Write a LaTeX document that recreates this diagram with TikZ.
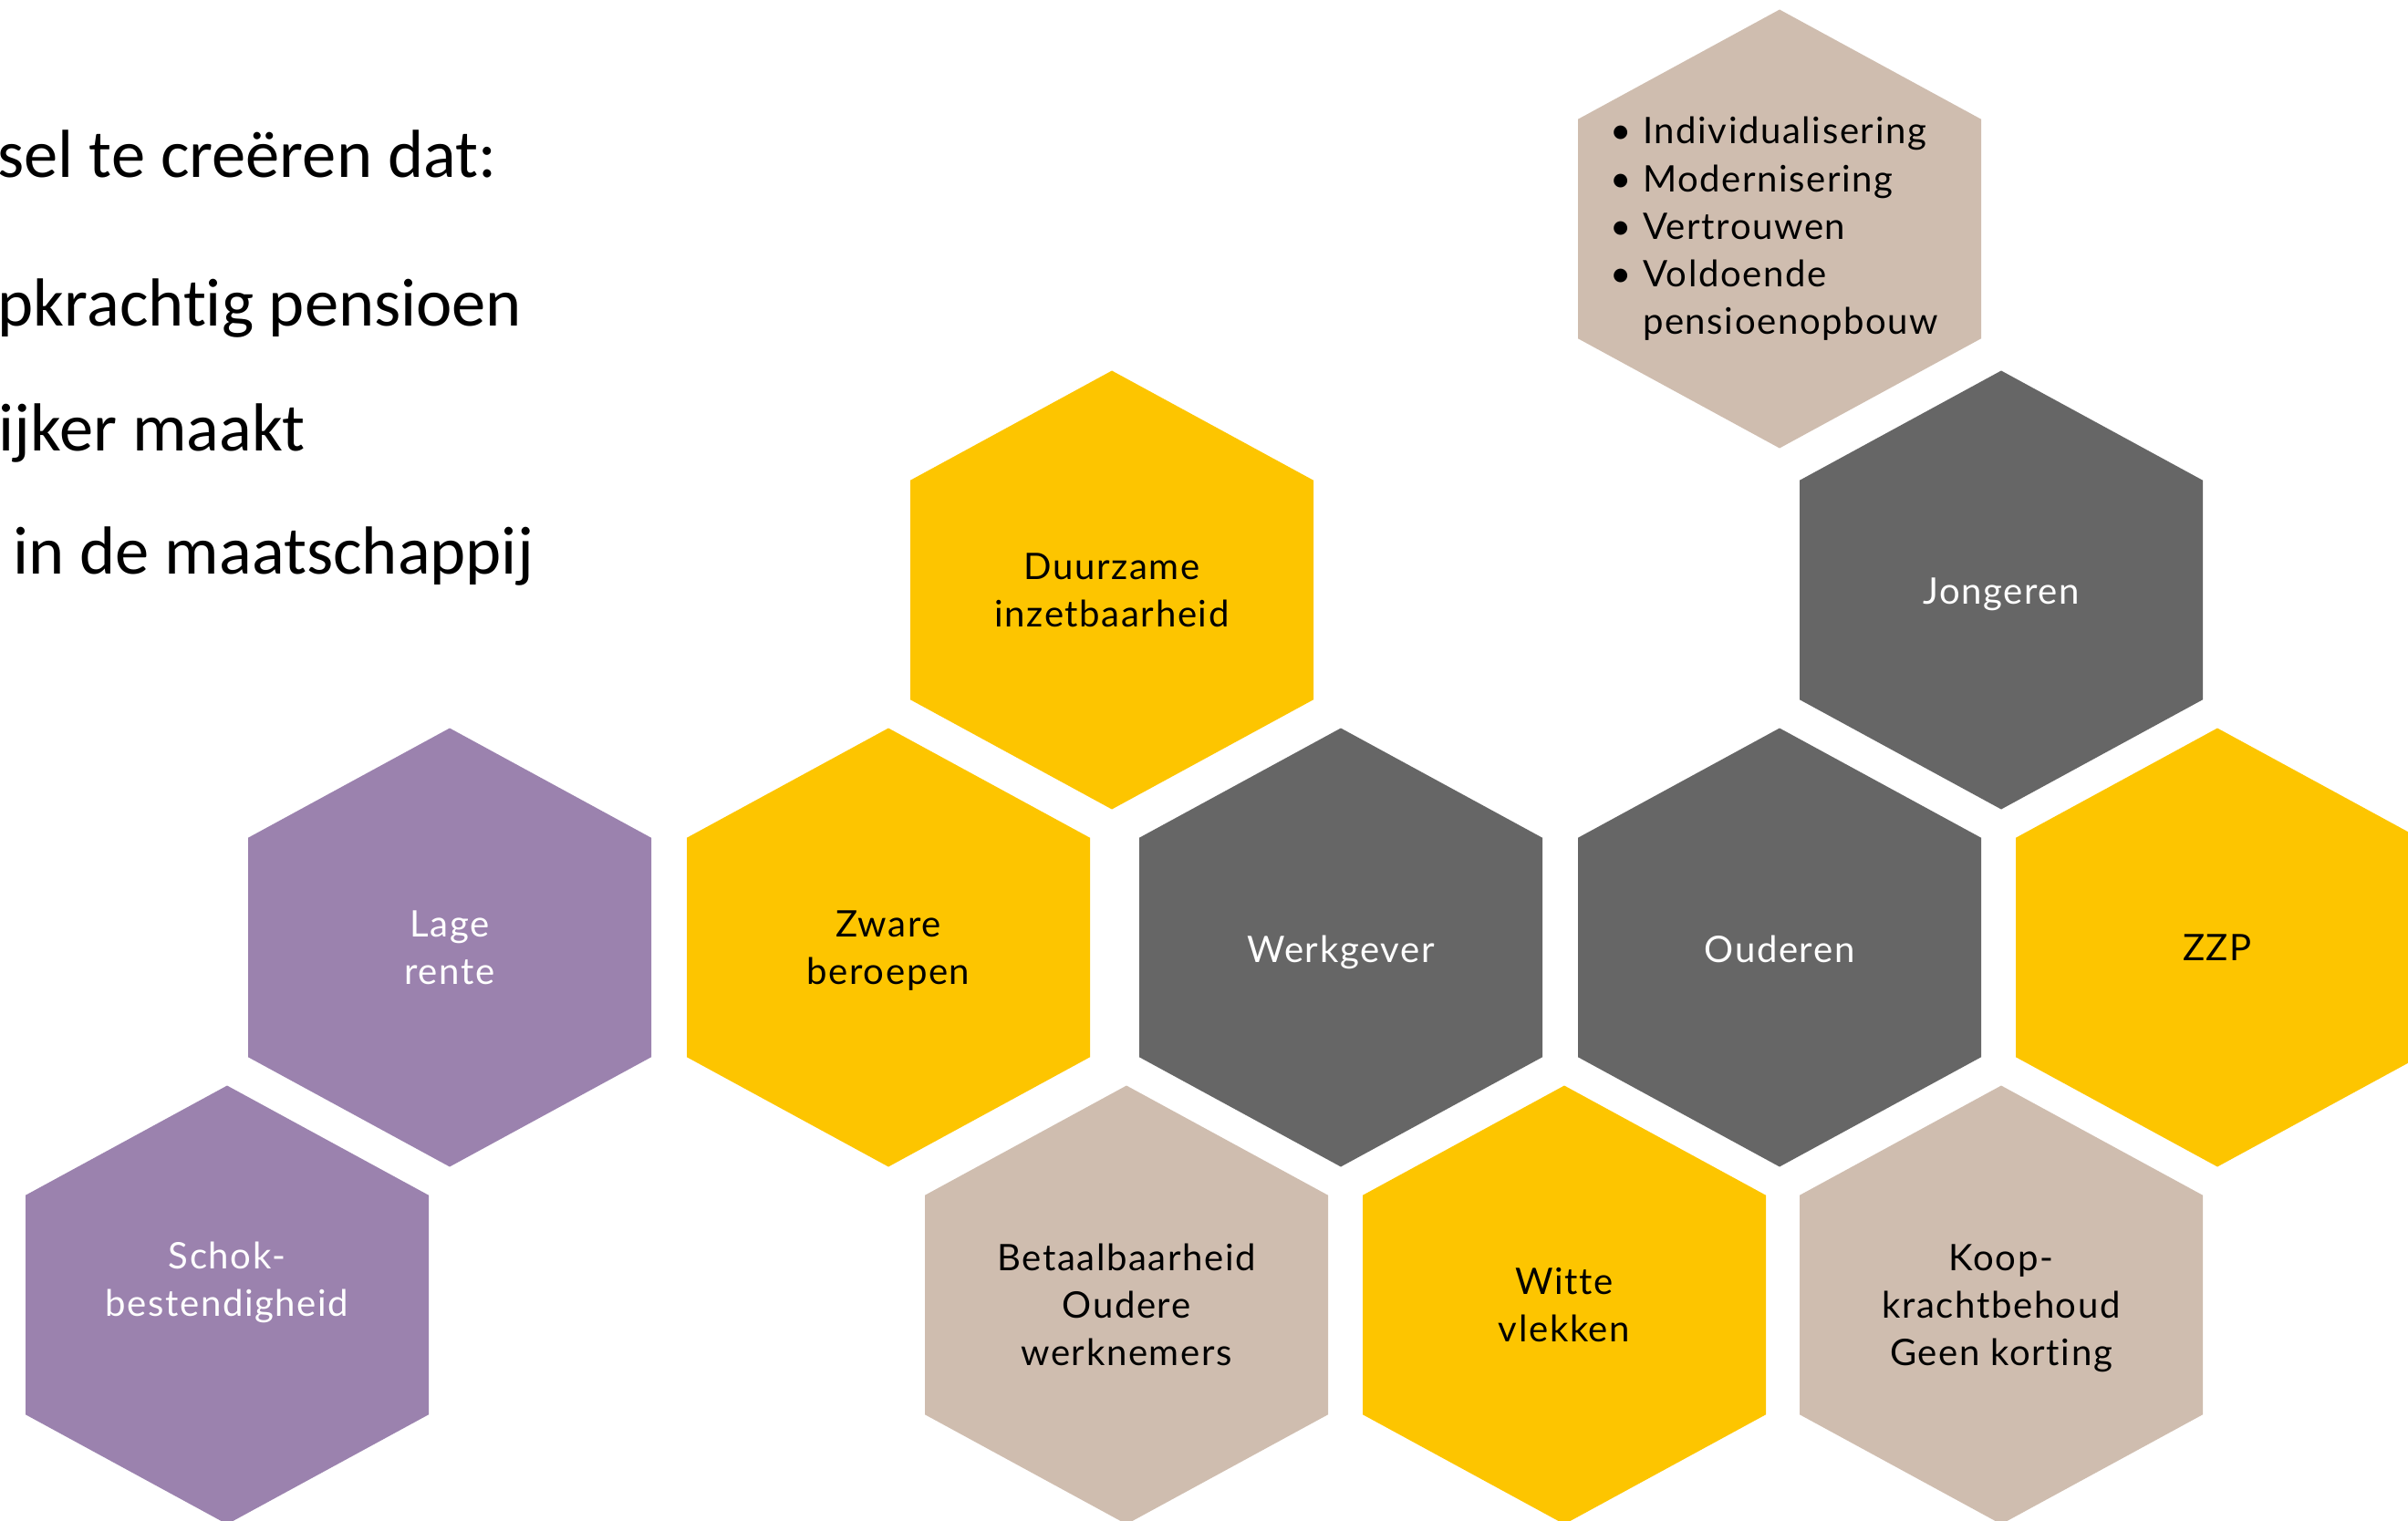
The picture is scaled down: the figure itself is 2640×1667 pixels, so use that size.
\documentclass[tikz,border=0pt]{standalone}
\usepackage{fontspec}
\setmainfont{Lato}[LetterSpace=4, Ligatures=NoCommon]
\newfontfamily\calibri{Carlito}[Ligatures=NoCommon]
\definecolor{amarillo}{HTML}{FDC500}
\definecolor{gris}{HTML}{666666}
\definecolor{arena}{HTML}{CFBDAF}
\definecolor{morado}{HTML}{9B82AE}
\tikzset{
  hexa/.pic={\fill (0,-240.5) -- (221,-120.25) -- (221,120.25) -- (0,240.5) -- (-221,120.25) -- (-221,-120.25) -- cycle;},
  texto/.style={align=center, inner sep=0pt, font=\fontsize{11.4}{14.8}\selectfont},
  claro/.style={texto, text=white},
  oscuro/.style={texto, text=black},
  frase/.style={anchor=base west, inner sep=0pt, font=\calibri\fontsize{21.2}{26}\selectfont}
}

\begin{document}
\begin{tikzpicture}[x=0.01cm, y=-0.01cm]
        \useasboundingbox (0,0) rectangle (2640,1667);
        \clip (0,0) rectangle (2640,1667);

        % Texto de la izquierda (cortado en el borde)
        \node[frase] (linea1) at (-3,195) {sel te creëren dat:};
        \node[frase] (linea2) at (-3,358) {pkrachtig pensioen};
        \node[frase] (linea3) at (-2,494) {ijker maakt};
        \node[frase] (linea4) at (14,629) {in de maatschappij};

        % Fila de arriba
        \pic[arena] at (1951,251) {hexa};
        \node[oscuro, anchor=base west] (lista) at (1765,158) {\begin{tabular}[t]{@{}l@{\hspace{0.3em}}l@{}}
          \textbullet & Individualisering\\
          \textbullet & Modernisering\\
          \textbullet & Vertrouwen\\
          \textbullet & Voldoende\\
                      & pensioenopbouw
        \end{tabular}};

        % Segunda fila
        \pic[amarillo] at (1219,647) {hexa};
        \node[oscuro] (duurzaam) at (1219,647) {Duurzame\\inzetbaarheid};
        \pic[gris] at (2194,647) {hexa};
        \node[claro] (jongeren) at (2194,652) {Jongeren};

        % Fila del medio
        \pic[morado] at (493,1039) {hexa};
        \node[claro] (rente) at (493,1039) {Lage\\rente};
        \pic[amarillo] at (974,1039) {hexa};
        \node[oscuro] (zwaar) at (974,1043) {Zware\\beroepen};
        \pic[gris] at (1470,1039) {hexa};
        \node[claro] (werkgever) at (1470,1044) {Werkgever};
        \pic[gris] at (1951,1039) {hexa};
        \node[claro] (ouderen) at (1951,1041) {Ouderen};
        \pic[amarillo] at (2431,1039) {hexa};
        \node[oscuro] (zzp) at (2431,1039) {ZZP};

        % Fila de abajo
        \pic[morado] at (249,1431) {hexa};
        \node[claro] (schok) at (249,1406) {Schok-\\bestendigheid};
        \pic[arena] at (1235,1431) {hexa};
        \node[oscuro] (betaal) at (1235,1431) {Betaalbaarheid\\Oudere\\werknemers};
        \pic[amarillo] at (1715,1431) {hexa};
        \node[oscuro] (witte) at (1715,1431) {Witte\\vlekken};
        \pic[arena] at (2194,1431) {hexa};
        \node[oscuro] (koop) at (2194,1435) {Koop-\\krachtbehoud\\Geen korting};
\end{tikzpicture}
\end{document}
